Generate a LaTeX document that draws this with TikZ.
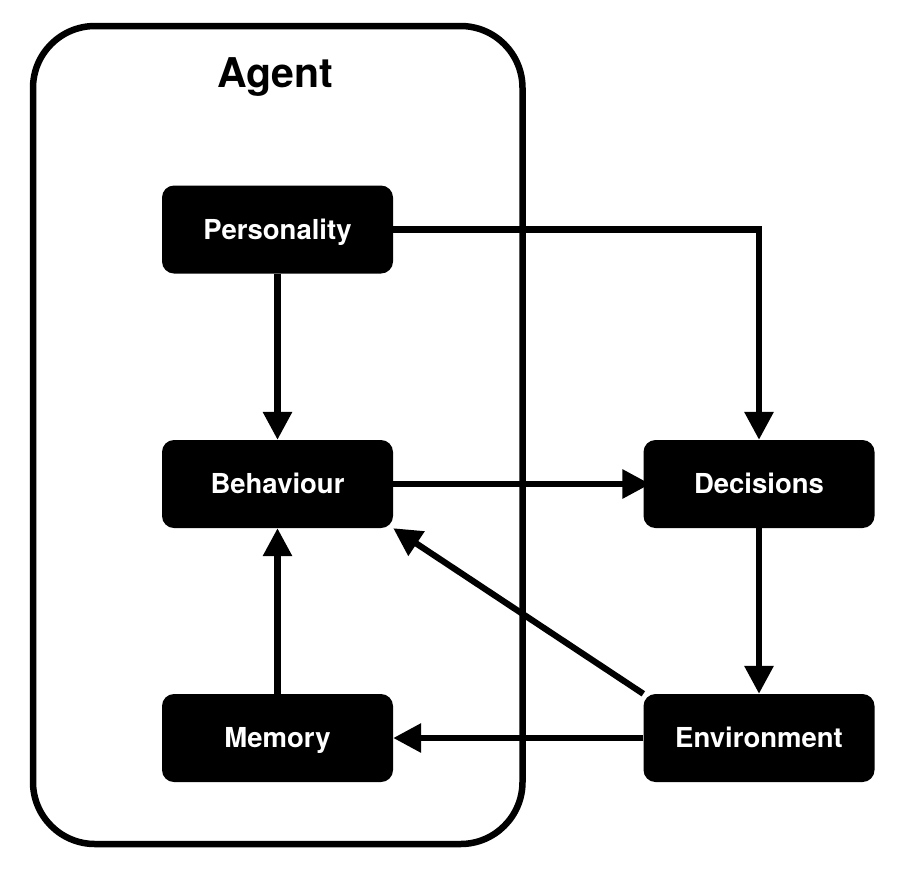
\documentclass[tikz,border=0pt]{standalone}
\usepackage{fontspec}
\setmainfont{TeX Gyre Heros}
\usetikzlibrary{arrows.meta}
\begin{document}
\begin{tikzpicture}[x=1pt,y=-1pt,
  blk/.style={fill=black, rounded corners=12pt, minimum width=231pt, minimum height=88pt,
    text=white, font=\fontsize{27.5}{31}\selectfont\bfseries, inner sep=0pt,
    text height=19.5pt, text depth=0pt},
  conn/.style={line width=6.2pt, -{Triangle[width=28pt,length=28pt]}},
  frame/.style={draw, line width=6.5pt, rounded corners=62pt, minimum width=489.5pt,
    minimum height=818pt, inner sep=0pt},
  title/.style={font=\fontsize{41}{45}\selectfont\bfseries, inner sep=0pt, anchor=base}
]
\useasboundingbox (0,0) rectangle (904,876);
\node[frame] (agent) at (277.75,435) {};
\node[title] (agentlbl) at (275,87) {Agent};
\node[blk] (pers) at (277.5,229.5) {Personality};
\node[blk] (beh) at (277.5,484) {Behaviour};
\node[blk] (mem) at (277.5,738) {Memory};
\node[blk] (dec) at (759,484) {Decisions};
\node[blk] (env) at (759,738) {Environment};
\draw[conn] (pers.east) -| (dec.north);
\draw[conn] (pers.south) -- (beh.north);
\draw[conn] (mem.north) -- (beh.south);
\draw[conn, shorten >=-7pt] (beh.east) -- (dec.west);
\draw[conn] (dec.south) -- (env.north);
\draw[conn] (env.west) -- (mem.east);
\draw[conn] (env.north west) -- (beh.south east);
\end{tikzpicture}
\end{document}
